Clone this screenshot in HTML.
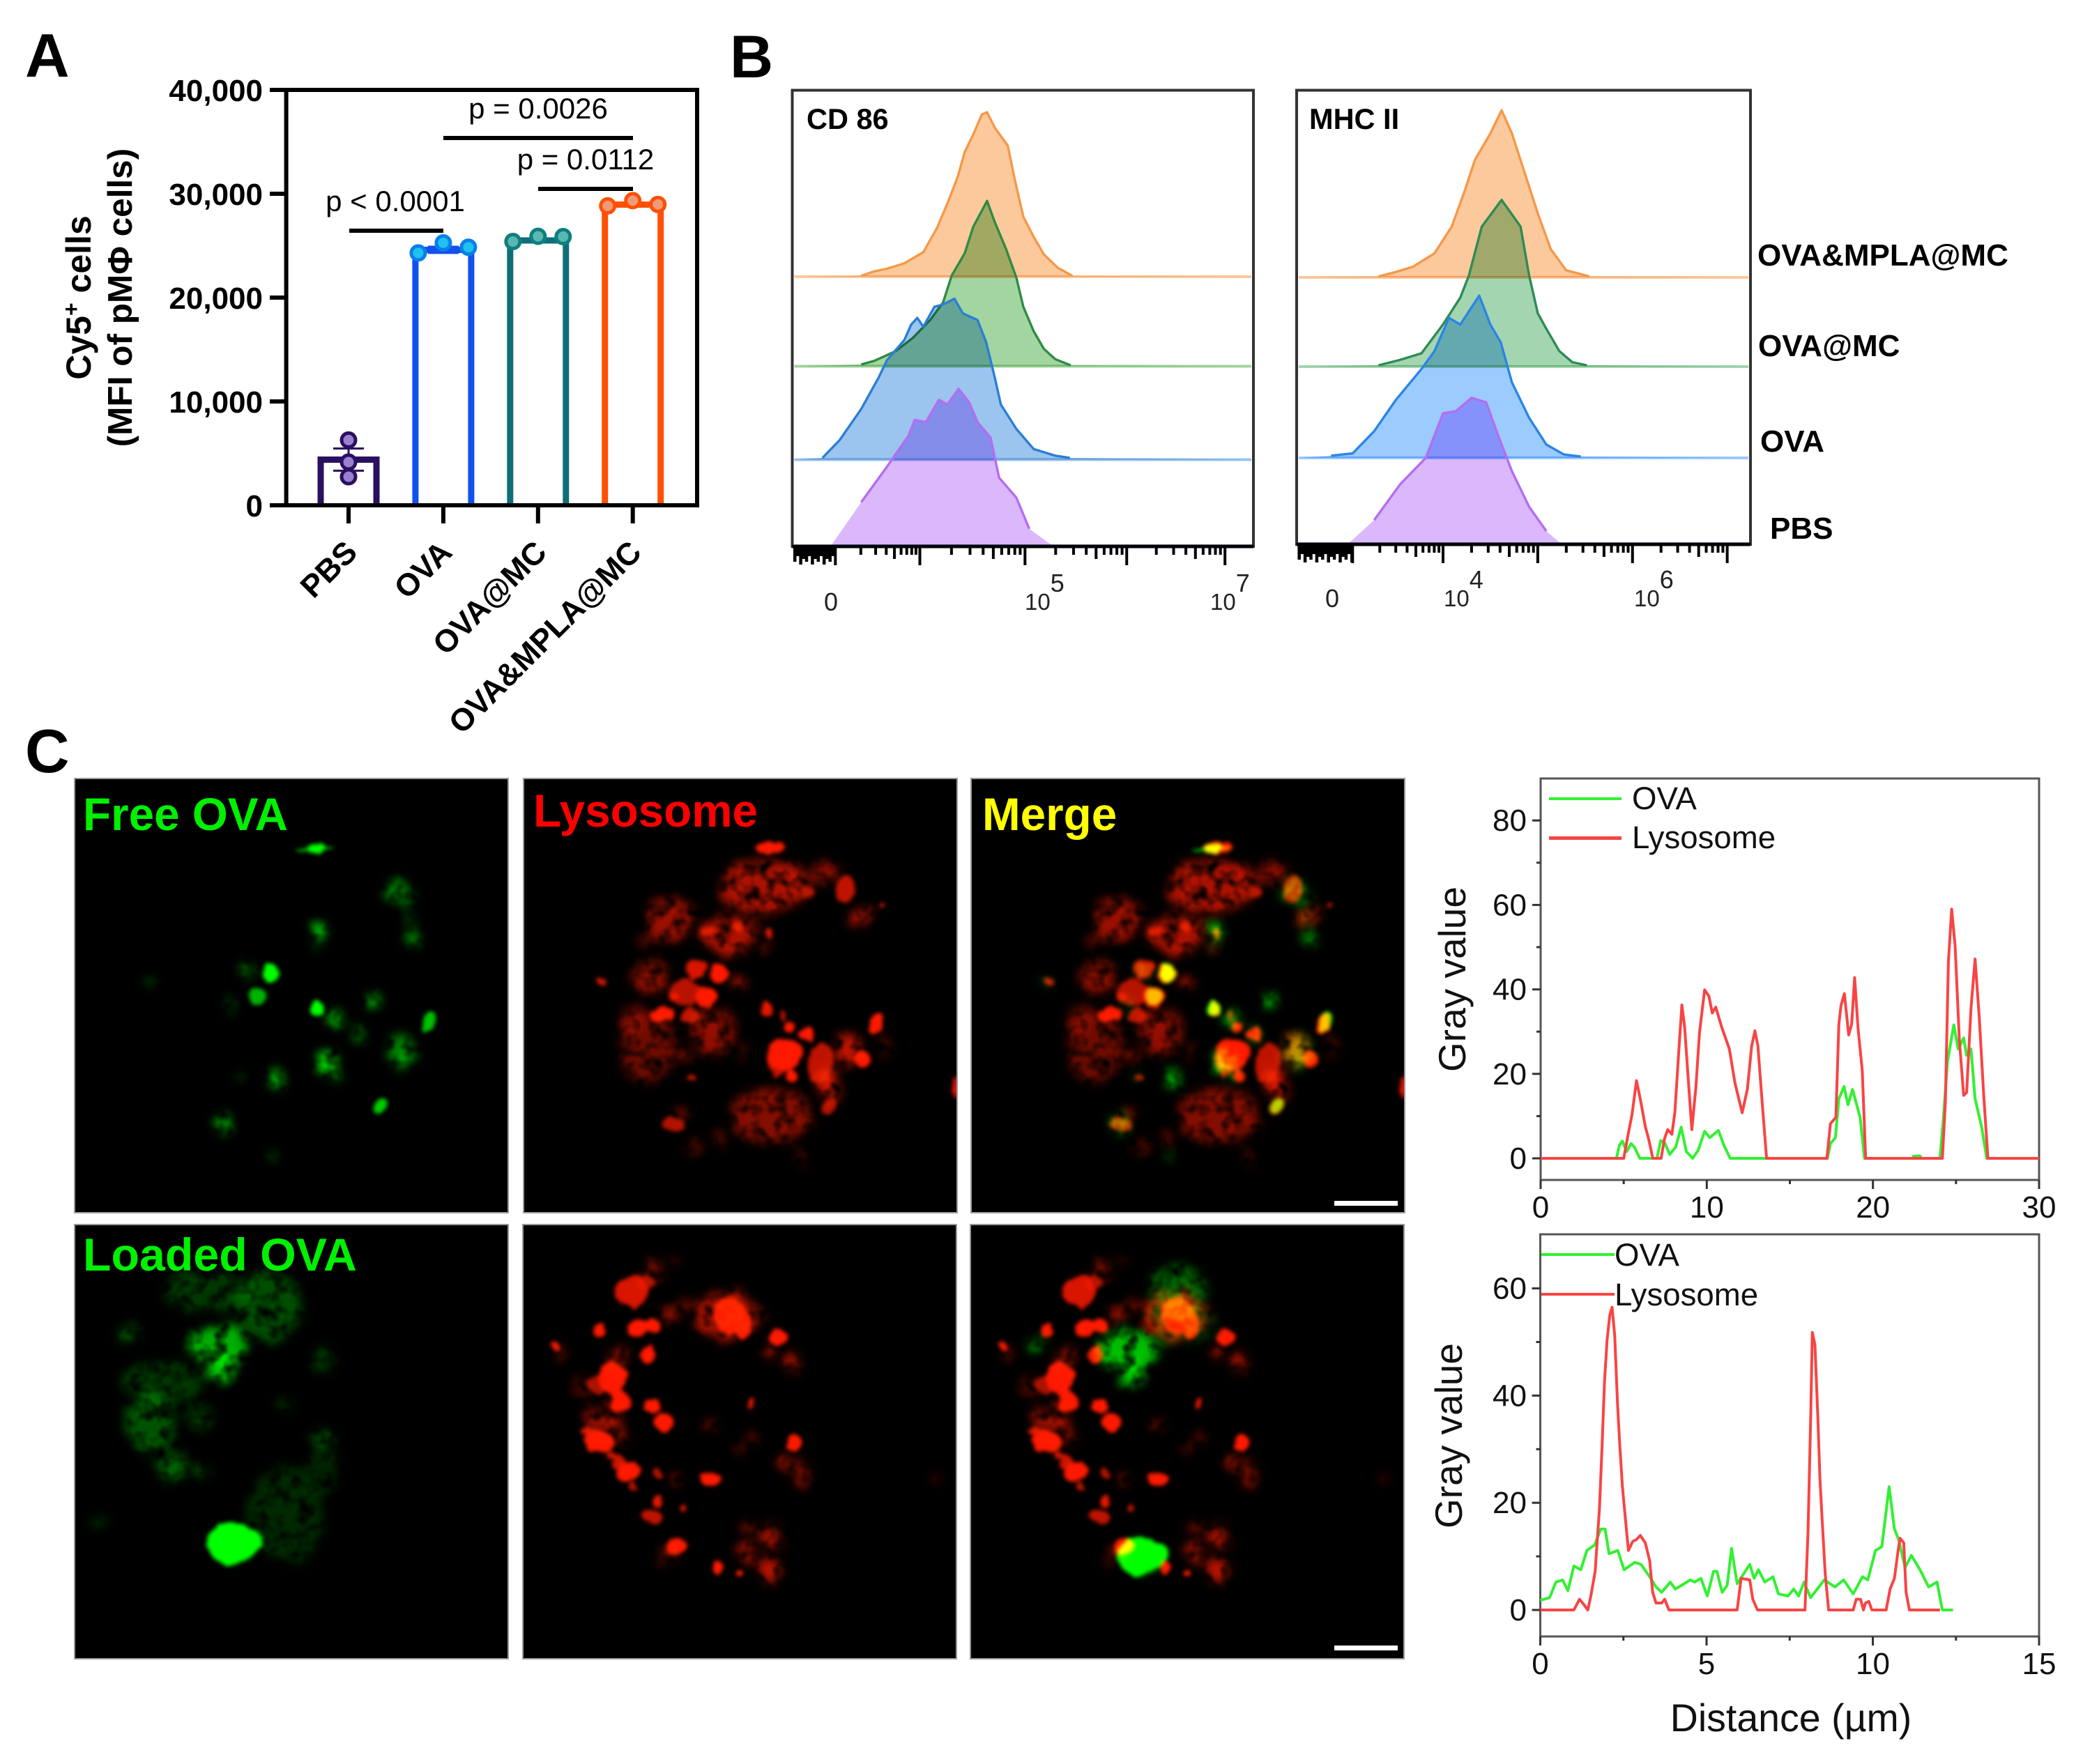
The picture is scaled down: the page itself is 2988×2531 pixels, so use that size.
<!DOCTYPE html>
<html lang="en">
<head>
<meta charset="utf-8">
<title>Figure panels A, B and C</title>
<style>
html,body{margin:0;padding:0;background:#fff;}
svg#figure{display:block;font-family:"Liberation Sans",Arial,sans-serif;}
.blend{mix-blend-mode:multiply;}
.screen{mix-blend-mode:screen;}
</style>
</head>
<body>
<svg id="figure" xmlns="http://www.w3.org/2000/svg" width="2988" height="2531" viewBox="0 0 2988 2531">
<defs>
<filter id="organic" filterUnits="userSpaceOnUse" x="-10" y="-10" width="642" height="643" color-interpolation-filters="sRGB">
<feTurbulence type="fractalNoise" baseFrequency="0.035" numOctaves="3" seed="4" result="n"/>
<feDisplacementMap in="SourceGraphic" in2="n" scale="16" xChannelSelector="R" yChannelSelector="G"/>
<feGaussianBlur stdDeviation="3"/>
</filter>
<filter id="soft" filterUnits="userSpaceOnUse" x="-10" y="-10" width="642" height="643" color-interpolation-filters="sRGB">
<feTurbulence type="fractalNoise" baseFrequency="0.05" numOctaves="2" seed="7" result="n"/>
<feDisplacementMap in="SourceGraphic" in2="n" scale="26" xChannelSelector="R" yChannelSelector="G" result="d"/>
<feGaussianBlur in="d" stdDeviation="7" result="b"/>
<feColorMatrix in="n" type="matrix" values="0 0 0 0 0  0 0 0 0 0  0 0 0 0 0  2.2 0 0 0 -0.35" result="mask"/>
<feComposite in="b" in2="mask" operator="in"/>
</filter>
</defs>
<rect width="2988" height="2531" fill="#fff"/>

<text x="36" y="110" font-size="88" font-weight="700">A</text>
<text x="1047" y="111" font-size="86" font-weight="700">B</text>
<text x="36" y="1108" font-size="88" font-weight="700">C</text>

<g id="barChart">
<text transform="translate(130,427) rotate(-90)" text-anchor="middle" font-size="50" font-weight="700">Cy5<tspan dy="-17" font-size="32">+</tspan><tspan dy="17"> cells</tspan></text>
<text transform="translate(189,427) rotate(-90)" text-anchor="middle" font-size="49.5" font-weight="700">(MFI of pMΦ cells)</text>
<text x="567" y="303" text-anchor="middle" font-size="42">p &lt; 0.0001</text>
<text x="772" y="170" text-anchor="middle" font-size="42">p = 0.0026</text>
<text x="840" y="243" text-anchor="middle" font-size="42">p = 0.0112</text>
<rect x="501" y="328" width="135" height="6" fill="#000"/>
<rect x="636" y="195" width="272" height="6" fill="#000"/>
<rect x="772" y="268" width="136" height="6" fill="#000"/>
</g>

<g id="flowCharts">
<text x="1157" y="185" font-size="41.5" font-weight="700">CD 86</text>
<text x="1878" y="185" font-size="41.5" font-weight="700">MHC II</text>
<text x="2521" y="381" font-size="44" font-weight="700">OVA&amp;MPLA@MC</text>
<text x="2522" y="511" font-size="44" font-weight="700">OVA@MC</text>
<text x="2525" y="648" font-size="44" font-weight="700">OVA</text>
<text x="2539" y="773" font-size="44" font-weight="700">PBS</text>
<text x="1192" y="876" text-anchor="middle" font-size="36" fill="#222">0</text>
<text x="1470" y="875" font-size="33" fill="#222">10<tspan dy="-26" font-size="36">5</tspan></text>
<text x="1736" y="875" font-size="33" fill="#222">10<tspan dy="-26" font-size="36">7</tspan></text>
<text x="1911" y="871" text-anchor="middle" font-size="36" fill="#222">0</text>
<text x="2071" y="870" font-size="33" fill="#222">10<tspan dy="-26" font-size="36">4</tspan></text>
<text x="2344" y="870" font-size="33" fill="#222">10<tspan dy="-26" font-size="36">6</tspan></text>
</g>

<g id="micrographs"></g>
<g id="micrographLabels">
<text x="119" y="1191" font-size="65.6" font-weight="700" fill="#00f000">Free OVA</text>
<text x="765" y="1186" font-size="65.6" font-weight="700" fill="#ff0000">Lysosome</text>
<text x="1409" y="1191" font-size="65.6" font-weight="700" fill="#ffff00">Merge</text>
<text x="119" y="1823" font-size="66.3" font-weight="700" fill="#00f000">Loaded OVA</text>
<rect x="1914" y="1723" width="91" height="7" fill="#fff"/>
<rect x="1914" y="2361" width="91" height="7" fill="#fff"/>
</g>

<g id="lineCharts">
<text transform="translate(2102,1405) rotate(-90)" text-anchor="middle" font-size="55" fill="#111">Gray value</text>
<text transform="translate(2097,2060) rotate(-90)" text-anchor="middle" font-size="55" fill="#111">Gray value</text>
<text x="2569" y="2484" text-anchor="middle" font-size="55.5" fill="#111">Distance (µm)</text>
<rect x="2222" y="1144" width="104" height="4" fill="#33f033"/>
<rect x="2222" y="1200" width="104" height="5" fill="#f84444"/>
<text x="2341" y="1161" font-size="45.6" fill="#111">OVA</text>
<text x="2341" y="1217" font-size="45.6" fill="#111">Lysosome</text>
<rect x="2210" y="1798" width="106" height="4" fill="#33f033"/>
<rect x="2210" y="1855" width="106" height="4" fill="#f84444"/>
<text x="2316" y="1816" font-size="45.6" fill="#111">OVA</text>
<text x="2316" y="1873" font-size="45.6" fill="#111">Lysosome</text>
</g>
</svg>

<script>
/* ---------- Panel A data ---------- */
const barCategories = ['PBS','OVA','OVA@MC','OVA&MPLA@MC'];
const barMeans = [4400,24600,25500,28950];
const barErrors = [1070,300,170,150];
const pbsPoints = [6280,4160,2750];
const ovaPoints = [24300,25270,24850];
const ovaMcPoints = [25400,25900,25870];
const ovaMplaPoints = [28830,29340,28970];
const barYTicks = [0,10000,20000,30000,40000];
const barYTickLabels = ['0','10,000','20,000','30,000','40,000'];

/* ---------- Panel B data: channel number and event count ---------- */
const cd86OrangeChannels = [5,80,95,110,130,152,168,180,192,200,210,220,226,235,250,258,268,280,292,308,325,530];
const cd86OrangeCounts   = [0,2,12,18,30,55,110,165,225,280,320,365,370,335,295,220,135,90,50,20,2,0];
const cd86GreenChannels  = [5,80,95,120,140,160,175,185,200,210,226,235,248,260,268,280,292,305,323,530];
const cd86GreenCounts    = [0,4,12,34,64,104,144,204,254,314,372,324,264,199,134,79,39,16,2,0];
const cd86BlueChannels   = [5,35,55,80,100,110,130,138,145,152,165,175,188,198,215,225,235,242,260,280,305,322,530];
const cd86BlueCounts     = [0,4,44,114,184,224,269,304,319,299,344,349,362,329,314,264,184,124,69,24,9,4,0];
const cd86PurpleChannels = [45,80,110,135,142,155,170,180,193,205,215,230,240,260,275,302];
const cd86PurpleCounts   = [0,98,178,248,283,278,328,318,353,323,278,243,153,108,38,0];
const mhcOrangeChannels  = [5,95,115,135,160,180,195,207,225,238,250,265,280,295,313,340,525];
const mhcOrangeCounts    = [0,2,12,24,54,114,194,264,324,376,324,234,144,64,16,2,0];
const mhcGreenChannels   = [5,95,120,145,170,190,200,215,238,260,270,280,290,305,320,337,525];
const mhcGreenCounts     = [0,3,15,30,95,155,205,315,375,315,205,120,85,35,10,3,0];
const mhcBlueChannels    = [5,40,65,90,115,145,160,177,190,212,225,237,250,270,290,310,330,525];
const mhcBlueCounts      = [0,5,10,60,130,200,240,315,300,365,300,260,170,90,30,8,3,0];
const mhcPurpleChannels  = [60,90,120,150,170,185,203,220,235,250,270,290,307];
const mhcPurpleCounts    = [0,53,133,193,293,298,328,318,238,163,83,28,0];
const cd86MajorTicks = [50,148,270,388,502];
const mhcMajorTicks  = [65,170,280,390,500];

/* ---------- Panel C line profile data ---------- */
const topLysosomeX = [0,5,5.25,5.5,5.77,6,6.3,6.5,6.75,7.25,7.45,7.65,7.9,8.08,8.3,8.5,8.67,8.85,9.1,9.35,9.56,9.87,10.13,10.33,10.54,10.9,11.36,11.7,12.13,12.44,12.7,12.9,13.08,13.33,13.6,17.23,17.44,17.77,17.95,18.08,18.28,18.54,18.72,18.9,19.1,19.36,19.56,24.18,24.36,24.54,24.74,24.95,25.2,25.46,25.64,25.9,26.15,26.4,26.67,26.92,30];
const topLysosomeY = [0,0,5.3,10.4,18.4,14,7.5,4.6,0,0,4.6,6.8,5.7,11,24.4,36.3,31,20.7,6.8,17,29.6,39.9,38.4,34.4,35.8,31,25.9,17.8,10.8,16.3,26.6,30.2,26.6,13.4,0,0,8.2,9.7,31.8,36.2,39,29.2,31.8,42.8,31,20.7,0,0,13.4,46.5,59,50.2,28.1,14.9,15.6,35.5,47.2,33.3,14.9,0,0];
const topOvaX = [0,4.56,4.74,4.92,5.18,5.44,5.64,5.97,7,7.23,7.49,7.77,8.13,8.46,8.77,9.15,9.49,9.87,10.18,10.7,11.03,11.41,13.5,17.26,17.44,17.74,17.95,18.26,18.5,18.77,19.23,19.49,22.38,22.44,22.82,22.95,24.03,24.23,24.49,24.87,25.13,25.46,25.64,25.9,26.15,26.54,26.85,30];
const topOvaY = [0,0,3.1,4.1,1.6,3.5,2.7,0,0,4.2,3.5,0.9,2.7,7.4,1.6,0,2,6.4,4.9,6.6,3.1,0,0,0,3.5,4.9,14.1,17,12.7,16.3,9.7,0,0,0.5,0.6,0,0,9,23,31.6,25.9,28.5,24.4,25.9,14.1,7.5,0,0];
const bottomLysosomeX = [0,1.01,1.18,1.31,1.43,1.52,1.65,1.78,1.86,1.93,2.01,2.09,2.16,2.24,2.32,2.39,2.47,2.55,2.65,2.78,2.88,3.01,3.16,3.29,3.38,3.48,3.65,3.74,3.87,5.92,6.04,6.3,6.39,6.53,7.96,8.05,8.13,8.18,8.26,8.35,8.41,8.48,8.57,8.67,9.41,9.5,9.63,9.72,9.78,9.88,9.97,10.4,10.52,10.65,10.76,10.82,10.93,11,11.1,12.02];
const bottomLysosomeY = [0,0,2,1,0,2.6,7.2,19,30.8,42.6,50.5,55,56.5,51.1,38.7,30.8,23,17.7,11.1,12.8,13.1,13.9,12.5,9.2,3.3,1.3,1.3,2,0,0,5.9,5.6,2,0,0,14.4,35.4,51.8,49.5,35.4,24.3,16.4,6.6,0,0,2,2,0,1.3,1.6,0,0,3.9,5.9,11.1,13.4,12.5,3.3,0,0];
const bottomOvaX = [0,0.28,0.47,0.67,0.83,1.01,1.22,1.4,1.63,1.82,1.95,2.07,2.33,2.52,2.84,3.03,3.29,3.48,3.65,3.91,4.06,4.25,4.51,4.64,4.83,5.02,5.21,5.31,5.47,5.62,5.75,5.92,6.3,6.43,6.56,6.75,7,7.16,7.45,7.62,7.77,7.93,8.13,8.54,8.86,9.12,9.41,9.69,9.85,10.08,10.27,10.49,10.65,10.78,10.97,11.16,11.42,11.68,11.93,12.09,12.41];
const bottomOvaY = [1.8,2.3,5.2,5.6,3.6,8.2,7.5,11.1,12.1,15.1,15.1,10.5,11.1,7.5,8.9,8.5,6.2,4.3,3.3,5.2,3.9,4.6,5.6,5.2,5.9,2.6,7.2,7.2,3.3,4.6,11.5,4.9,8.5,5.9,7.5,5.2,6.2,3,2.6,3.9,2.6,5.2,2.3,5.6,4.3,5.6,3,6.2,5.6,11.1,11.8,23,15.1,13.1,7.9,10.2,7.5,4.3,5.2,0,0];
const topXTicks = [0,10,20,30];
const topXMinor = [5,15,25];
const topYTicks = [0,20,40,60,80];
const topYMinor = [10,30,50,70];
const bottomXTicks = [0,5,10,15];
const bottomXMinor = [2.5,7.5,12.5];
const bottomYTicks = [0,20,40,60];
const bottomYMinor = [10,30,50];

/* ---------- Micrograph features: [x, y, rx, ry, brightness] ---------- */
const freeOvaBlobs = [[585,295,18,18,1],[585,295,42,7,.65],[770,435,22,30,.38],[790,465,6,16,.3],[805,590,9,15,.4],[797,530,3,14,.2],[593,575,9,24,.6],[589,620,2,8,.25],[483,703,17,30,1],[430,705,13,20,.32],[455,778,19,30,.7],[390,810,7,20,.25],[586,818,15,25,1],[714,797,8,24,.6],[630,862,9,25,.5],[680,908,9,18,.3],[840,868,17,35,.75],[775,965,27,50,.36],[795,995,20,15,.3],[612,1015,15,38,.6],[640,1052,7,8,.25],[495,1055,13,25,.5],[420,1047,3,8,.4],[730,1148,15,24,.8],[378,1205,13,24,.5],[490,1310,6,10,.3],[215,735,8,10,.18]];
const freeRedBlobs = [[860,420,140,82,.5],[960,380,40,40,.3],[1065,375,40,30,.42],[1130,430,35,42,.75],[1190,520,25,20,.5],[1250,485,10,10,.7],[1000,435,18,18,.7],[545,525,68,70,.45],[480,590,30,18,.2],[740,575,90,52,.5],[670,565,20,20,.85],[770,555,24,24,.75],[730,630,20,20,.35],[480,725,55,50,.4],[470,950,88,110,.32],[420,860,40,40,.25],[690,900,70,70,.42],[885,1175,130,88,.38],[930,980,58,52,1],[1005,905,25,28,1],[950,1050,20,20,1],[905,1020,25,25,.75],[1050,1000,38,70,.75],[1070,1060,30,50,.55],[1140,960,40,50,.55],[1190,990,30,28,1],[710,705,30,30,1],[635,695,30,30,.85],[670,780,35,35,1],[600,770,50,50,.72],[520,842,38,26,1],[610,850,30,25,.75],[565,780,15,15,.85],[780,740,15,15,.5],[315,735,15,12,.8],[870,292,35,22,1],[912,292,20,20,1],[878,575,12,18,.85],[870,625,6,8,.45],[868,820,18,25,.9],[925,850,12,15,.75],[945,878,20,14,1],[1240,875,28,35,1],[620,1047,12,10,.75],[555,1205,30,28,.7],[590,1170,15,12,.45],[1080,1150,25,25,.7],[1090,1100,20,30,.45],[715,1255,10,8,.4],[625,1285,30,15,.28],[975,1320,10,8,.35],[598,985,12,12,.4],[790,950,10,30,.22],[1265,950,20,25,.18],[1505,1085,12,32,.9]];
const loadedOvaBlobs = [[365,440,65,60,.5],[375,520,25,40,.55],[400,1095,60,70,1],[400,1100,30,40,.5],[340,260,100,60,.16],[480,310,70,110,.22],[240,560,90,60,.16],[215,700,50,90,.24],[260,840,30,40,.28],[320,680,25,40,.16],[600,745,18,18,.3],[600,490,15,40,.16],[160,395,15,18,.3],[515,630,5,10,.25],[520,1000,80,150,.12],[600,850,30,80,.1],[325,855,6,12,.25],[100,1020,15,20,.1]];
const loadedMergeOvaBlobs = [[368,418,65,62,.55],[378,490,22,40,.55],[400,1095,56,64,1],[400,1100,30,40,.5],[160,395,12,14,.45],[480,220,60,80,.28],[490,330,70,60,.16]];
const loadedRedBlobs = [[420,260,50,55,.85],[470,240,30,20,.7],[440,380,40,30,1],[490,385,25,25,1],[490,195,25,20,.35],[315,388,22,22,1],[160,445,10,15,1],[175,465,12,6,.5],[473,472,25,30,1],[545,330,20,25,.45],[605,310,15,20,.28],[570,160,15,6,.25],[350,550,50,50,1],[380,625,38,40,1],[370,480,30,30,.38],[250,580,25,30,.28],[300,570,40,30,.65],[483,643,30,22,1],[525,695,32,33,1],[310,760,50,40,1],[265,725,15,15,.9],[320,680,50,40,.42],[370,720,25,30,.32],[350,805,15,15,.8],[405,860,40,35,1],[420,910,12,12,.7],[375,825,20,20,.8],[505,862,14,20,.7],[560,885,4,14,.4],[508,958,12,20,.9],[590,985,14,14,.8],[485,1010,35,22,.75],[740,340,60,60,1],[790,370,30,45,1],[740,340,100,70,.5],[915,410,25,27,1],[880,462,12,10,.5],[950,505,22,25,.45],[817,630,10,20,.9],[675,708,10,10,.5],[775,765,15,15,.3],[828,750,8,10,.3],[960,765,30,35,1],[930,825,8,10,.6],[985,870,20,40,.38],[680,882,33,25,1],[570,1105,40,30,1],[545,1130,20,20,.4],[705,1172,17,20,1],[778,1197,17,13,1],[880,1185,30,35,.55],[800,1120,25,25,.5],[880,1075,25,30,.5],[810,1060,15,15,.28],[1440,880,4,4,.2]];

/* ---------- helpers ---------- */
const NS = 'http://www.w3.org/2000/svg';
function make(parent, tag, attrs, text) {
  const e = document.createElementNS(NS, tag);
  for (const k in attrs) e.setAttribute(k, attrs[k]);
  if (text !== undefined) e.textContent = text;
  parent.appendChild(e);
  return e;
}
function polyPath(xs, ys) {
  return xs.map((x, i) => (i ? 'L' : 'M') + x.toFixed(1) + ' ' + ys[i].toFixed(1)).join('');
}

/* ---------- Panel A ---------- */
const barG = document.getElementById('barChart');
const yA = v => 725 - v * 596 / 40000;
const xA = i => 500 + i * 135.9;
const barColors = ['#2a1060','#1250ef','#0e6e78','#ff5005'];
const pointStroke = ['#2a1060','#0a7fe8','#0e7f80','#ff5005'];
const pointFill = ['#9b7fd0','#20c0f0','#5ab8b0','#f09a7a'];
const allPoints = [pbsPoints, ovaPoints, ovaMcPoints, ovaMplaPoints];

barMeans.forEach((m, i) => {
  const bar = make(barG, 'path', {d: `M${xA(i)-40} 725V${yA(m)}H${xA(i)+40}V725`, fill: '#fff', stroke: barColors[i], 'stroke-width': 9});
  
  
  const err = make(barG, 'path', {d: `M${xA(i)-22} ${yA(m+barErrors[i])}H${xA(i)+22}M${xA(i)-22} ${yA(m-barErrors[i])}H${xA(i)+22}M${xA(i)} ${yA(m+barErrors[i])}V${yA(m-barErrors[i])}`, fill: 'none', stroke: barColors[i], 'stroke-width': 3});
  
  
  allPoints[i].forEach((p, j) => {
    const cx = i === 0 ? xA(i) : xA(i) + (j - 1) * 36;
    const pt = make(barG, 'circle', {cx: cx, cy: yA(p), r: 10, fill: pointFill[i], stroke: pointStroke[i], 'stroke-width': 5});
    
    
  });
  const tick = make(barG, 'line', {x1: xA(i), x2: xA(i), y1: 725, y2: 751, stroke: '#000', 'stroke-width': 6});
  
  
  const lab = make(barG, 'text', {transform: `rotate(-45 ${xA(i)+15} 795)`, x: xA(i) + 15, y: 795, 'text-anchor': 'end', 'font-size': 45, 'font-weight': 700}, barCategories[i]);
  
  
});
const frame = make(barG, 'rect', {x: 410.6, y: 129, width: 589.4, height: 596, fill: 'none', stroke: '#000', 'stroke-width': 6});


barYTicks.forEach((v, i) => {
  const t = make(barG, 'line', {x1: 387, x2: 410, y1: yA(v), y2: yA(v), stroke: '#000', 'stroke-width': 6});
  
  
  const l = make(barG, 'text', {x: 377, y: yA(v) + 16, 'text-anchor': 'end', 'font-size': 44, 'font-weight': 700}, barYTickLabels[i]);
  
  
});

/* ---------- Panel B ---------- */
const flowG = document.getElementById('flowCharts');
function drawFlow(cfg) {
  const fx = ch => cfg.left + ch * (cfg.right - cfg.left) / cfg.span;
  const fy = (c, base) => base - c / 1.568;
  cfg.series.forEach(s => {
    const xs = s.channels.map(fx);
    const ys = s.counts.map(c => fy(c, s.base));
    const baseLine = make(flowG, 'rect', {x: cfg.left + 3, y: s.base - 2, width: cfg.right - cfg.left - 6, height: 4, fill: s.fill});
    
    
    const area = make(flowG, 'path', {d: polyPath(xs, ys) + 'Z', fill: s.fill, class: 'blend'});
    
    
    const keep = s.counts.map(c => c > 0);
    const ex = xs.filter((_, i) => keep[i]);
    const ey = ys.filter((_, i) => keep[i]);
    const line = make(flowG, 'path', {d: polyPath(ex, ey), fill: 'none', stroke: s.stroke, 'stroke-width': 3.4, 'stroke-linejoin': 'round'});
    
    
  });
  const box = make(flowG, 'rect', {x: cfg.left, y: 129.5, width: cfg.right - cfg.left, height: cfg.bottom - 129.5, fill: 'none', stroke: '#333', 'stroke-width': 4});
  
  
  const axis = make(flowG, 'line', {x1: cfg.left, x2: cfg.right, y1: cfg.bottom, y2: cfg.bottom, stroke: '#000', 'stroke-width': 5});
  
  
  let d = '';
  cfg.ticks.forEach((t, i) => {
    d += `M${fx(t)} ${cfg.bottom}v27`;
    const next = cfg.ticks[i + 1];
    if (next !== undefined) {
      for (let k = 2; k < 10; k++) {
        d += `M${(fx(t) + Math.log10(k) * (fx(next) - fx(t))).toFixed(1)} ${cfg.bottom}v${k === 5 ? 18 : 12}`;
      }
    }
  });
  const ticksPath = make(flowG, 'path', {d: d, stroke: '#000', 'stroke-width': 4, fill: 'none'});
  
  
  let dense = '';
  for (let ch = 3, n = 0; ch < cfg.ticks[0]; ch += 3.4, n++) {
    dense += `M${fx(ch).toFixed(1)} ${cfg.bottom}v${[22,14,26,18][n % 4]}`;
  }
  const densePath = make(flowG, 'path', {d: dense, stroke: '#000', 'stroke-width': 4.5, fill: 'none'});
  
  
}
drawFlow({name: 'cd86', left: 1136.5, right: 1798, span: 535, bottom: 784, ticks: cd86MajorTicks, series: [
  {name: 'ova-mpla-mc', channels: cd86OrangeChannels, counts: cd86OrangeCounts, base: 397, fill: '#fbc99b', stroke: '#f5984a'},
  {name: 'ova-mc', channels: cd86GreenChannels, counts: cd86GreenCounts, base: 525.5, fill: '#a3d5a0', stroke: '#2e8b45'},
  {name: 'ova', channels: cd86BlueChannels, counts: cd86BlueCounts, base: 659.5, fill: '#9bc4ee', stroke: '#2a7fd5'},
  {name: 'pbs', channels: cd86PurpleChannels, counts: cd86PurpleCounts, base: 783, fill: '#dab8fb', stroke: '#b36ef0'}
]});
drawFlow({name: 'mhc2', left: 1860, right: 2511, span: 527, bottom: 781, ticks: mhcMajorTicks, series: [
  {name: 'ova-mpla-mc', channels: mhcOrangeChannels, counts: mhcOrangeCounts, base: 398, fill: '#fbc99b', stroke: '#f5984a'},
  {name: 'ova-mc', channels: mhcGreenChannels, counts: mhcGreenCounts, base: 526, fill: '#a3d5b0', stroke: '#2e8b55'},
  {name: 'ova', channels: mhcBlueChannels, counts: mhcBlueCounts, base: 657, fill: '#9ccbff', stroke: '#2a85e5'},
  {name: 'pbs', channels: mhcPurpleChannels, counts: mhcPurpleCounts, base: 780, fill: '#dab8fb', stroke: '#b36ef0'}
]});

/* ---------- Panel C micrographs ---------- */
const micro = document.getElementById('micrographs');
const mapFreeGreen = b => [(b[0]-42)/1.568, (b[1]-62)/2.306, b[2]/1.568, b[3]/2.306, b[4]];
const mapFreeRed = b => [(b[0]-54)/2.34, (b[1]-62)/2.306, b[2]/2.34, b[3]/2.306, b[4]];
const mapLoadedGreen = b => [(b[0]-42)/1.568, (b[1]-40)/2.306, b[2]/1.568, b[3]/2.306, b[4]];
const mapLoadedRed = b => [(b[0]-52)/2.34, (b[1]-40)/2.306, b[2]/2.34, b[3]/2.306, b[4]];
function blobLayer(parent, blobs, map, color, dx, dy, label) {
  const softGroup = make(parent, 'g', {class: 'screen', filter: 'url(#soft)', transform: `translate(${dx} ${dy})`});
  
  
  const sharpGroup = make(parent, 'g', {class: 'screen', filter: 'url(#organic)', transform: `translate(${dx} ${dy})`});
  
  
  blobs.forEach(raw => {
    const b = map(raw);
    const isDim = b[4] < 0.62;
    const e = make(isDim ? softGroup : sharpGroup, 'ellipse', {cx: b[0].toFixed(1), cy: b[1].toFixed(1), rx: (b[2] + (isDim ? 3 : 0)).toFixed(1), ry: (b[3] + (isDim ? 3 : 0)).toFixed(1), fill: color, 'fill-opacity': Math.min(1, isDim ? b[4] * 1.35 : b[4])});
    
    
  });
}
function panel(name, x, y, layers) {
  const s = make(micro, 'svg', {x: x, y: y, width: 622, height: 623, viewBox: '0 0 622 623'});
  
  
  const bg = make(s, 'rect', {width: 622, height: 623, fill: '#000'});
  
  
  layers.forEach(l => blobLayer(s, l[0], l[1], l[2], l[3] || 0, l[4] || 0, name + '-channel'));
  const edge = make(micro, 'rect', {x: x, y: y, width: 622, height: 623, fill: 'none', stroke: '#999', 'stroke-width': 2});
  
  
}
const GREEN = 'rgb(0,255,0)', RED = 'rgb(255,25,0)';
panel('free-ova-image', 107, 1117, [[freeOvaBlobs, mapFreeGreen, GREEN]]);
panel('free-lysosome-image', 751, 1117, [[freeRedBlobs, mapFreeRed, RED]]);
panel('free-merge-image', 1393, 1117, [[freeRedBlobs, mapFreeRed, RED], [freeOvaBlobs, mapFreeGreen, GREEN]]);
panel('loaded-ova-image', 107, 1757, [[loadedOvaBlobs, mapLoadedGreen, GREEN]]);
panel('loaded-lysosome-image', 750, 1757, [[loadedRedBlobs, mapLoadedRed, RED]]);
panel('loaded-merge-image', 1392, 1757, [[loadedRedBlobs, mapLoadedRed, RED], [loadedMergeOvaBlobs, mapLoadedGreen, GREEN, 18, 18]]);

/* ---------- Panel C line profiles ---------- */
const lineG = document.getElementById('lineCharts');
function drawProfile(cfg) {
  const px = v => cfg.left + (v - cfg.xMin) * (cfg.right - cfg.left) / (cfg.xMax - cfg.xMin);
  const py = v => cfg.zeroY - v * cfg.pxPerUnit;
  const spine = make(lineG, 'rect', {x: cfg.left, y: cfg.top, width: cfg.right - cfg.left, height: cfg.bottom - cfg.top, fill: 'none', stroke: '#555', 'stroke-width': 3});
  
  
  cfg.series.forEach(s => {
    const l = make(lineG, 'path', {d: polyPath(s.x.map(px), s.y.map(py)), fill: 'none', stroke: s.color, 'stroke-width': 4, 'stroke-linejoin': 'round'});
    
    
  });
  cfg.xTicks.forEach(v => {
    const t = make(lineG, 'line', {x1: px(v), x2: px(v), y1: cfg.bottom, y2: cfg.bottom + 13, stroke: '#333', 'stroke-width': 3});
    
    
    const lab = make(lineG, 'text', {x: px(v), y: cfg.xLabelY, 'text-anchor': 'middle', 'font-size': 44, fill: '#111'}, String(v));
    
    
  });
  cfg.xMinor.forEach(v => {
    const t = make(lineG, 'line', {x1: px(v), x2: px(v), y1: cfg.bottom, y2: cfg.bottom + 6, stroke: '#333', 'stroke-width': 3});
    
    
  });
  cfg.yTicks.forEach(v => {
    const t = make(lineG, 'line', {x1: cfg.left - 12, x2: cfg.left, y1: py(v), y2: py(v), stroke: '#333', 'stroke-width': 3});
    
    
    const lab = make(lineG, 'text', {x: 2190, y: py(v) + 15, 'text-anchor': 'end', 'font-size': 44, fill: '#111'}, String(v));
    
    
  });
  cfg.yMinor.forEach(v => {
    const t = make(lineG, 'line', {x1: cfg.left - 6, x2: cfg.left, y1: py(v), y2: py(v), stroke: '#333', 'stroke-width': 3});
    
    
  });
}
drawProfile({name: 'top-profile', left: 2210, right: 2925, top: 1117, bottom: 1693, xMin: 0, xMax: 30, zeroY: 1662, pxPerUnit: 6.06, xLabelY: 1747,
  xTicks: topXTicks, xMinor: topXMinor, yTicks: topYTicks, yMinor: topYMinor,
  series: [{name: 'ova', x: topOvaX, y: topOvaY, color: '#33f033'}, {name: 'lysosome', x: topLysosomeX, y: topLysosomeY, color: '#f84444'}]});
drawProfile({name: 'bottom-profile', left: 2209.5, right: 2925, top: 1771, bottom: 2348, xMin: 0, xMax: 15, zeroY: 2310, pxPerUnit: 7.69, xLabelY: 2402,
  xTicks: bottomXTicks, xMinor: bottomXMinor, yTicks: bottomYTicks, yMinor: bottomYMinor,
  series: [{name: 'ova', x: bottomOvaX, y: bottomOvaY, color: '#33f033'}, {name: 'lysosome', x: bottomLysosomeX, y: bottomLysosomeY, color: '#f84444'}]});
</script>
</body>
</html>
